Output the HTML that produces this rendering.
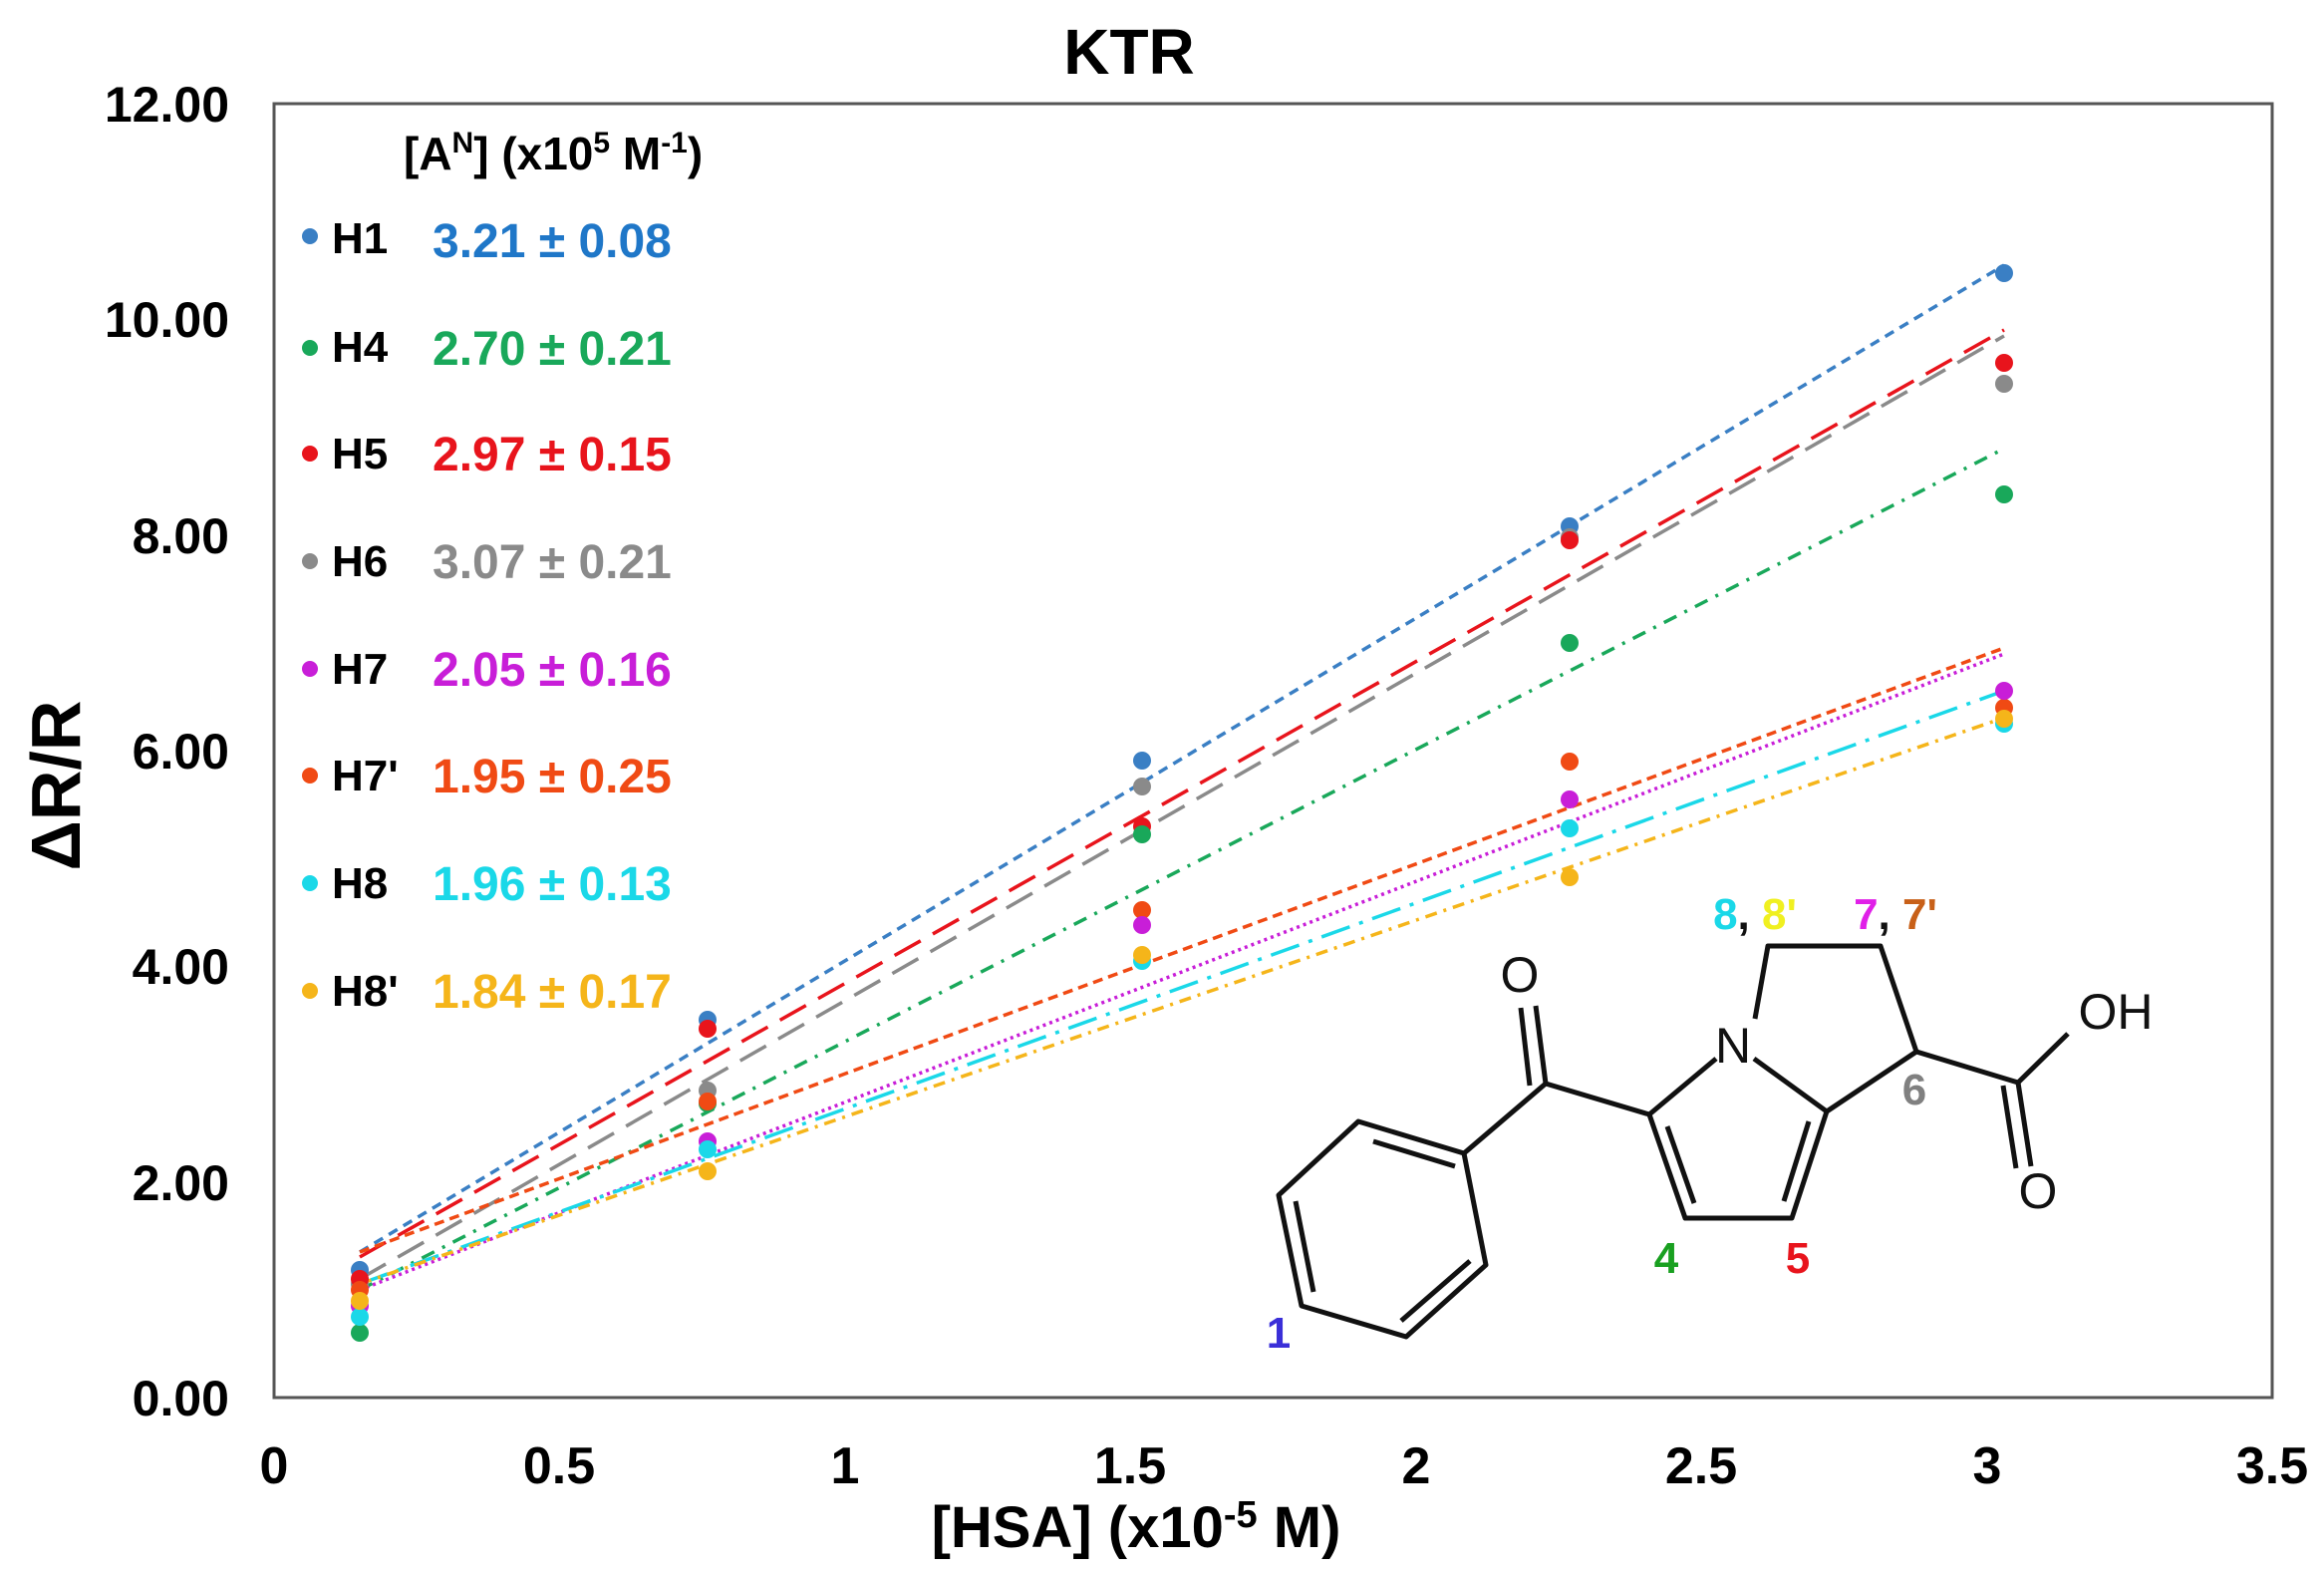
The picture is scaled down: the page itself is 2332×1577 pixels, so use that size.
<!DOCTYPE html>
<html><head><meta charset="utf-8"><style>
html,body{margin:0;padding:0;background:#fff;}
svg{display:block;}
text{font-family:"Liberation Sans",Arial,sans-serif;}
</style></head><body>
<svg width="2332" height="1577" viewBox="0 0 2332 1577" xmlns="http://www.w3.org/2000/svg">
<rect width="2332" height="1577" fill="#fff"/>
<text x="1133" y="74" font-size="64" font-weight="bold" text-anchor="middle">KTR</text>
<rect x="275" y="104" width="2005" height="1298" fill="none" stroke="#555" stroke-width="3"/>
<g font-size="50" font-weight="bold" text-anchor="end">
<text x="230" y="122">12.00</text><text x="230" y="338">10.00</text><text x="230" y="555">8.00</text>
<text x="230" y="771">6.00</text><text x="230" y="987">4.00</text><text x="230" y="1204">2.00</text><text x="230" y="1420">0.00</text>
</g>
<g font-size="52" font-weight="bold" text-anchor="middle">
<text x="275" y="1488">0</text><text x="561" y="1488">0.5</text><text x="848" y="1488">1</text><text x="1134" y="1488">1.5</text>
<text x="1421" y="1488">2</text><text x="1707" y="1488">2.5</text><text x="1994" y="1488">3</text><text x="2280" y="1488">3.5</text>
</g>
<text x="1140" y="1552" font-size="58" font-weight="bold" text-anchor="middle">[HSA] (x10<tspan font-size="38" dy="-20">-5</tspan><tspan dy="20"> M)</tspan></text>
<text transform="translate(80,788) rotate(-90)" font-size="70" font-weight="bold" text-anchor="middle">ΔR/R</text>

<g fill="none" stroke-width="3.5">
<line x1="361" y1="1256" x2="2011" y2="266" stroke="#3a7fc4" stroke-dasharray="10,7"/>
<line x1="361" y1="1261" x2="2011" y2="331" stroke="#e8141c" stroke-dasharray="30,14"/>
<line x1="361" y1="1283" x2="2011" y2="337" stroke="#8a8a8a" stroke-dasharray="30,14"/>
<line x1="361" y1="1294" x2="2011" y2="450" stroke="#19a85a" stroke-dasharray="14,9,3,9"/>
<line x1="361" y1="1256" x2="2011" y2="650" stroke="#f04a14" stroke-dasharray="10,6"/>
<line x1="361" y1="1294" x2="2011" y2="656" stroke="#c81ed8" stroke-dasharray="3,4"/>
<line x1="361" y1="1288" x2="2011" y2="693" stroke="#1ad8e8" stroke-dasharray="30,10,4,10"/>
<line x1="361" y1="1288" x2="2011" y2="720" stroke="#f5b51a" stroke-dasharray="12,7,3,7"/>
</g>

<g>
<g fill="#3a7fc4"><circle cx="361" cy="1274" r="9"/><circle cx="710" cy="1023" r="9"/><circle cx="1146" cy="763" r="9"/><circle cx="1575" cy="528" r="9"/><circle cx="2011" cy="274" r="9"/></g>
<g fill="#8a8a8a"><circle cx="361" cy="1288" r="9"/><circle cx="710" cy="1094" r="9"/><circle cx="1146" cy="789" r="9"/><circle cx="1575" cy="539" r="9"/><circle cx="2011" cy="385" r="9"/></g>
<g fill="#e8141c"><circle cx="361" cy="1283" r="9"/><circle cx="710" cy="1032" r="9"/><circle cx="1146" cy="829" r="9"/><circle cx="1575" cy="542" r="9"/><circle cx="2011" cy="364" r="9"/></g>
<g fill="#19a85a"><circle cx="361" cy="1337" r="9"/><circle cx="710" cy="1107" r="9"/><circle cx="1146" cy="837" r="9"/><circle cx="1575" cy="645" r="9"/><circle cx="2011" cy="496" r="9"/></g>
<g fill="#f04a14"><circle cx="361" cy="1294" r="9"/><circle cx="710" cy="1105" r="9"/><circle cx="1146" cy="913" r="9"/><circle cx="1575" cy="764" r="9"/><circle cx="2011" cy="710" r="9"/></g>
<g fill="#c81ed8"><circle cx="361" cy="1310" r="9"/><circle cx="710" cy="1145" r="9"/><circle cx="1146" cy="928" r="9"/><circle cx="1575" cy="802" r="9"/><circle cx="2011" cy="693" r="9"/></g>
<g fill="#1ad8e8"><circle cx="361" cy="1321" r="9"/><circle cx="710" cy="1153" r="9"/><circle cx="1146" cy="964" r="9"/><circle cx="1575" cy="831" r="9"/><circle cx="2011" cy="726" r="9"/></g>
<g fill="#f5b51a"><circle cx="361" cy="1305" r="9"/><circle cx="710" cy="1175" r="9"/><circle cx="1146" cy="958" r="9"/><circle cx="1575" cy="880" r="9"/><circle cx="2011" cy="721" r="9"/></g>
</g>

<text x="405" y="170" font-size="46" font-weight="bold">[A<tspan font-size="30" dy="-17">N</tspan><tspan dy="17">] (x10</tspan><tspan font-size="30" dy="-17">5</tspan><tspan dy="17"> M</tspan><tspan font-size="30" dy="-17">-1</tspan><tspan dy="17">)</tspan></text>
<g font-weight="bold">
<g font-size="44">
<text x="333" y="254">H1</text><text x="333" y="363">H4</text><text x="333" y="470">H5</text><text x="333" y="578">H6</text>
<text x="333" y="686">H7</text><text x="333" y="793">H7'</text><text x="333" y="901">H8</text><text x="333" y="1009">H8'</text>
</g>
<circle cx="311" cy="237" r="8" fill="#3a7fc4"/><circle cx="311" cy="349" r="8" fill="#19a85a"/>
<circle cx="311" cy="455" r="8" fill="#e8141c"/><circle cx="311" cy="563" r="8" fill="#8a8a8a"/>
<circle cx="311" cy="671" r="8" fill="#c81ed8"/><circle cx="311" cy="778" r="8" fill="#f04a14"/>
<circle cx="311" cy="886" r="8" fill="#1ad8e8"/><circle cx="311" cy="994" r="8" fill="#f5b51a"/>
<g font-size="48">
<text x="434" y="258" fill="#1f77c8">3.21 ± 0.08</text>
<text x="434" y="366" fill="#19a85a">2.70 ± 0.21</text>
<text x="434" y="472" fill="#e8141c">2.97 ± 0.15</text>
<text x="434" y="580" fill="#8a8a8a">3.07 ± 0.21</text>
<text x="434" y="688" fill="#c81ed8">2.05 ± 0.16</text>
<text x="434" y="795" fill="#f04a14">1.95 ± 0.25</text>
<text x="434" y="903" fill="#1ad8e8">1.96 ± 0.13</text>
<text x="434" y="1011" fill="#f5b51a">1.84 ± 0.17</text>
</g>
</g>

<g stroke="#111" stroke-width="5" fill="none" stroke-linejoin="round">
<polygon points="1363,1125 1469,1157 1491,1269 1411,1341 1306,1310 1283,1199"/>
<line x1="1378" y1="1145" x2="1460" y2="1170"/>
<line x1="1475" y1="1265" x2="1406" y2="1325"/>
<line x1="1300" y1="1205" x2="1318" y2="1296"/>
<line x1="1469" y1="1157" x2="1551" y2="1087"/>
<line x1="1551" y1="1087" x2="1541" y2="1009"/>
<line x1="1535" y1="1089" x2="1526" y2="1011"/>
<line x1="1551" y1="1087" x2="1655" y2="1118"/>
<line x1="1655" y1="1118" x2="1722" y2="1062"/>
<polyline points="1655,1118 1691,1222 1798,1222 1833,1115 1760,1062"/>
<line x1="1673" y1="1130" x2="1700" y2="1207"/>
<line x1="1790" y1="1205" x2="1815" y2="1125"/>
<polyline points="1833,1115 1923,1055 1887,949 1774,949 1761,1022"/>
<line x1="1923" y1="1055" x2="2025" y2="1086"/>
<line x1="2025" y1="1086" x2="2075" y2="1037"/>
<line x1="2025" y1="1086" x2="2038" y2="1170"/>
<line x1="2010" y1="1089" x2="2023" y2="1172"/>
</g>
<g font-size="50" fill="#111">
<text x="1525" y="995" text-anchor="middle">O</text>
<text x="1739" y="1066" text-anchor="middle">N</text>
<text x="2123" y="1032" text-anchor="middle">OH</text>
<text x="2045" y="1212" text-anchor="middle">O</text>
</g>
<g font-size="44" font-weight="bold" text-anchor="middle">
<text x="1283" y="1352" fill="#3a2fd8">1</text>
<text x="1672" y="1277" fill="#19a020">4</text>
<text x="1804" y="1277" fill="#e8141c">5</text>
<text x="1921" y="1108" fill="#808080">6</text>
<text x="1761" y="932"><tspan fill="#1ad8e8">8</tspan><tspan fill="#111">, </tspan><tspan fill="#f0f020">8'</tspan></text>
<text x="1902" y="932"><tspan fill="#e020e8">7</tspan><tspan fill="#111">, </tspan><tspan fill="#c86018">7'</tspan></text>
</g>
</svg>
</body></html>
